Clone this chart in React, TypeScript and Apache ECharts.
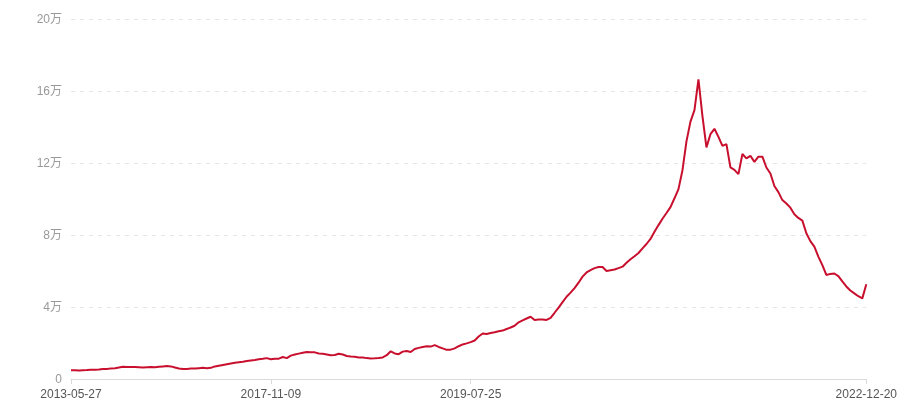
import React, { useEffect, useRef } from "react";
import * as echarts from "echarts";

// values in units (1万 = 10000)
const values: number[] = [
  4800, 4800, 4700, 4900, 5000, 5200, 5100, 5300, 5600, 5500,
  5900, 6000, 6400, 6800, 6600, 6700, 6600, 6500, 6400, 6500,
  6600, 6500, 6800, 7000, 7200, 7000, 6400, 5800, 5500, 5600,
  5800, 5800, 6000, 6200, 6000, 6200, 7000, 7400, 7800, 8200,
  8600, 9000, 9300, 9600, 10000, 10300, 10600, 11000, 11200, 11600,
  11000, 11200, 11300, 12200, 11600, 13000, 13600, 14100, 14600, 15000,
  14900, 14800, 14200, 14000, 13600, 13200, 13300, 14000, 13600, 12800,
  12500, 12300, 12000, 11900, 11600, 11400, 11500, 11700, 12000, 13200,
  15400, 14200, 13800, 15200, 15600, 15000, 16700, 17300, 17800, 18200,
  18000, 18800, 17800, 17000, 16200, 16300, 17000, 18200, 19200, 19800,
  20500, 21400, 23600, 25300, 25000, 25600, 26000, 26500, 26900, 27800,
  28600, 29600, 31500, 32600, 33600, 34600, 32800, 33000, 33100, 32800,
  34000, 36800, 39700, 42700, 45700, 48000, 50500, 53500, 56900, 59200,
  60500, 61600, 62200, 62200, 60000, 60400, 60800, 61600, 62400, 64600,
  66500, 68200, 70000, 72600, 75000, 77800, 81800, 85500, 89000, 92200,
  95500, 100400, 105500, 116000, 132000, 143000, 149400, 166500, 146000, 128700,
  136000, 139000, 134500, 129500, 130500, 117600, 116200, 113800, 125000, 122600,
  124000, 120600, 123500, 123500, 117500, 114200, 107200, 103800, 99400, 97500,
  95200, 91500, 89500, 88000, 81000, 76600, 73500, 68000, 63300, 57800,
  58400, 58600, 57200, 54200, 51400, 49200, 47600, 46000, 44800, 52600,
];

// tick labels shown on the category axis, at their category indices
const tickIndices: number[] = [0, 50, 100, 199];
const tickLabels: string[] = ["2013-05-27", "2017-11-09", "2019-07-25", "2022-12-20"];

const categories: string[] = values.map((_, i) => {
  const k = tickIndices.indexOf(i);
  return k >= 0 ? tickLabels[k] : String(i);
});

const isTick = (i: number) => tickIndices.indexOf(i) >= 0;

const FONT = "Arial, 'Liberation Sans', 'Noto Sans CJK SC', sans-serif";

export default function App() {
  const ref = useRef<HTMLDivElement>(null);
  useEffect(() => {
    if (!ref.current) return;
    const chart = echarts.init(ref.current, undefined, { renderer: "svg" });
    chart.setOption({
      animation: false,
      grid: { left: 71, right: 32, top: 19, bottom: 21, containLabel: false },
      xAxis: {
        type: "category",
        boundaryGap: false,
        data: categories,
        axisLine: { lineStyle: { color: "#d9d9d9", width: 1 } },
        axisTick: {
          show: true,
          interval: (i: number) => isTick(i),
          length: 5,
          lineStyle: { color: "#d9d9d9" },
        },
        axisLabel: {
          interval: (i: number) => isTick(i),
          color: "#555",
          fontSize: 12,
          margin: 9,
          fontFamily: FONT,
          showMaxLabel: true,
        },
        splitLine: { show: false },
      },
      yAxis: {
        type: "value",
        min: 0,
        max: 200000,
        interval: 40000,
        axisLine: { show: false },
        axisTick: { show: false },
        axisLabel: {
          color: "#999",
          fontSize: 12,
          margin: 9,
          fontFamily: FONT,
          formatter: (v: number) => (v === 0 ? "0" : `${v / 10000}万`),
        },
        splitLine: { lineStyle: { color: "#e6e6e6", type: [4, 5], width: 1 } },
      },
      series: [
        {
          type: "line",
          data: values,
          showSymbol: false,
          symbol: "none",
          lineStyle: { color: "#c8102e", width: 2 },
          itemStyle: { color: "#c8102e" },
        },
      ],
    });
    return () => chart.dispose();
  }, []);
  return (
    <div
      ref={ref}
      style={{ position: "fixed", left: 0, top: 0, width: 900, height: 400 }}
    />
  );
}
